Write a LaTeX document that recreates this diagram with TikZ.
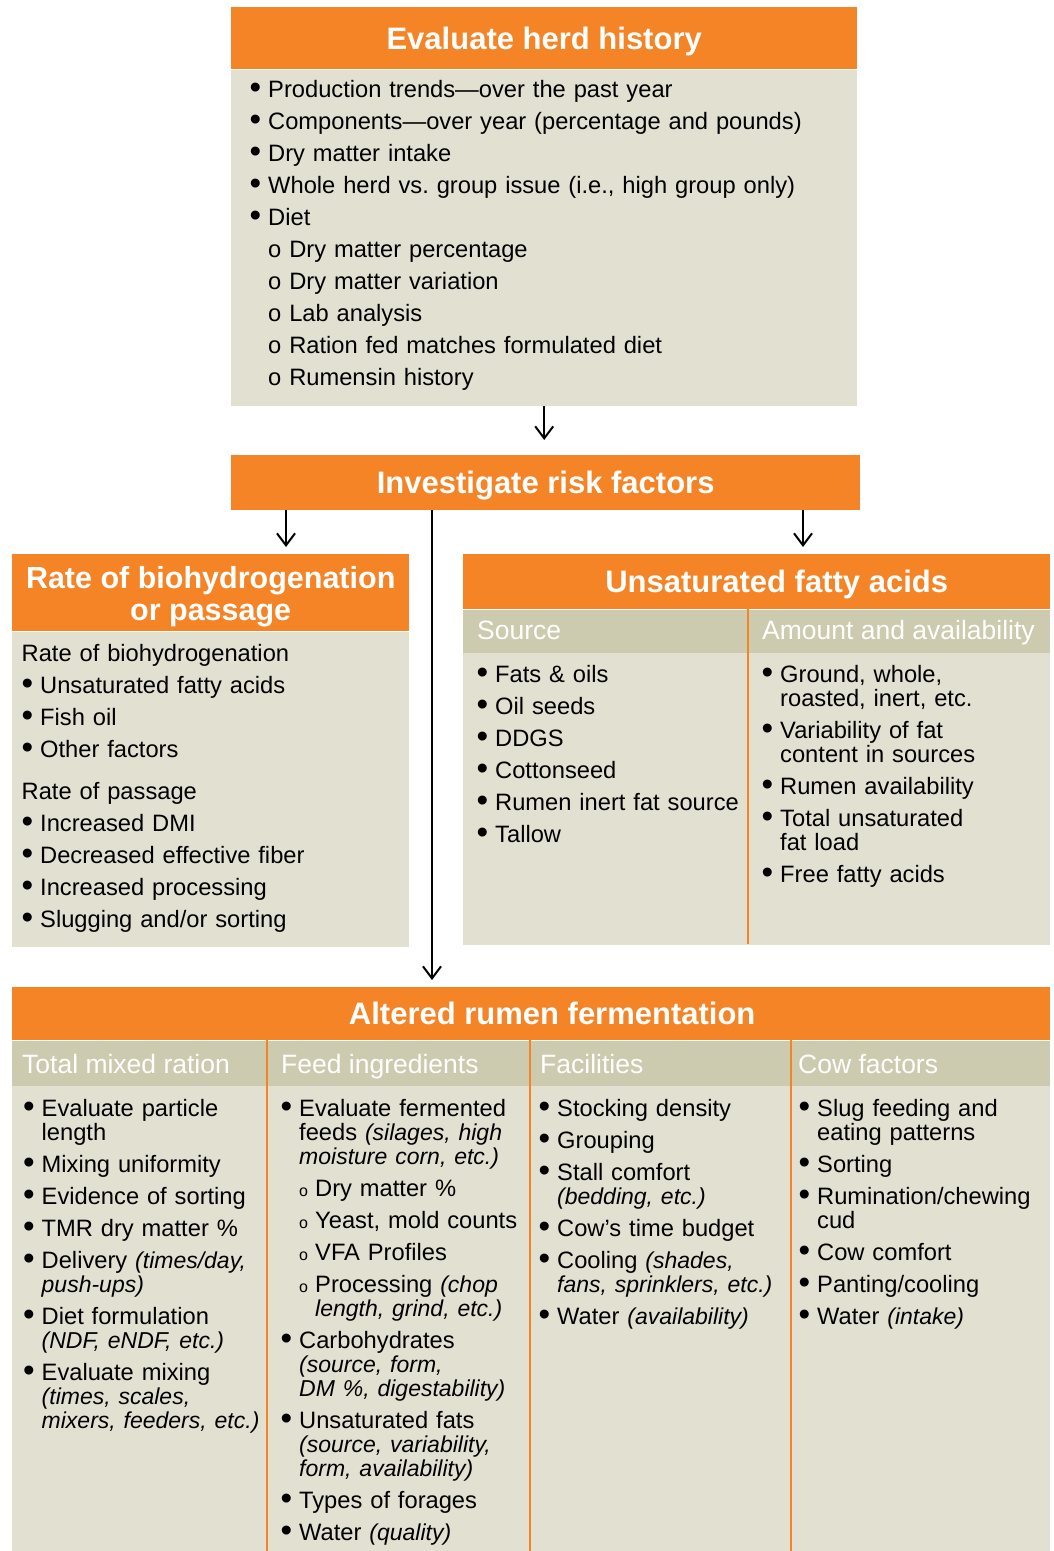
\documentclass[tikz,border=0pt]{standalone}
\usepackage{fontspec}
\setmainfont{Liberation Sans}
\usetikzlibrary{arrows.meta}

\definecolor{hdorange}{RGB}{245,132,38}
\definecolor{bodybeige}{RGB}{226,224,209}
\definecolor{subkhaki}{RGB}{205,203,175}

% list items: bullet, plain line, "o" sub item, small "o" sub item
\newlength\bulw
\setlength\bulw{18.5pt}
\newcommand\bul{\raisebox{-1.8pt}{\fontsize{33}{24}\selectfont•}}
\newcommand\ital[1]{{\fontsize{23}{24}\selectfont\itshape #1}}
\newcommand\bitem[1]{\parskip=8pt\hangindent=\bulw\hangafter=1\relax
  \leavevmode\makebox[\bulw][l]{\bul}#1\par}
\newcommand\hditem[1]{\parskip=8pt\leavevmode#1\par}
\newcommand\oitem[1]{\parskip=8pt\leavevmode\hspace*{\bulw}o #1\par}
\newcommand\sitem[1]{\parskip=8pt\hangindent=\dimexpr\bulw+16pt\relax\hangafter=1\relax
  \leavevmode\hspace*{\bulw}\makebox[16pt][l]{\fontsize{16}{16}\selectfont o}#1\par}

\begin{document}
\begin{tikzpicture}[x=1pt, y=-1pt,
  head/.style={fill=hdorange, inner sep=0pt, anchor=north west},
  title/.style={text=white, inner sep=0pt, font=\fontsize{31}{32}\selectfont\bfseries},
  head1/.style={head, title, text height=22pt, text depth=0pt},
  body/.style={fill=bodybeige, inner sep=0pt, anchor=north west},
  band/.style={fill=subkhaki, inner sep=0pt, anchor=north west},
  colhd/.style={text=white, inner sep=0pt, anchor=base west,
    font=\fontsize{26.5}{26.5}\selectfont},
  items/.style={inner sep=0pt, anchor=base west, text width=600pt, align=left,
    font=\fontsize{23.7}{24}\selectfont\frenchspacing},
  divider/.style={draw=hdorange, line width=1.5pt},
  arr/.style={-{Straight Barb[length=12pt,width=18pt]}, line width=2pt, shorten >=7pt}]
  \useasboundingbox (0,0) rectangle (1053,1551);

  % Evaluate herd history
  \node[head1, minimum width=626pt, minimum height=62pt] (herd) at (231,7) {Evaluate herd history};
  \node[body, minimum width=626pt, minimum height=336pt] (herdbody) at (herd.south west) {};
  \node[items] (herdlist) at (249.5,97) {%
    \bitem{Production trends—over the past year}%
    \bitem{Components—over year (percentage and pounds)}%
    \bitem{Dry matter intake}%
    \bitem{Whole herd vs. group issue (i.e., high group only)}%
    \bitem{Diet}%
    \oitem{Dry matter percentage}%
    \oitem{Dry matter variation}%
    \oitem{Lab analysis}%
    \oitem{Ration fed matches formulated diet}%
    \oitem{Rumensin history}};

  % Investigate risk factors
  \node[head1, minimum width=629pt, minimum height=55pt] (risk) at (231,455) {Investigate risk factors};

  % Rate of biohydrogenation or passage
  \node[head, minimum width=397pt, minimum height=77pt] (biohyd) at (12,554) {};
  \node[title, align=center, font=\fontsize{30.5}{32}\selectfont\bfseries, yshift=-4pt]
    (biohydtitle) at (biohyd.center) {Rate of biohydrogenation\\or passage};
  \node[body, minimum width=397pt, minimum height=315pt] (biohydbody) at (biohyd.south west) {};
  \node[items] (biohydlist) at (21.5,661) {%
    \hditem{Rate of biohydrogenation}%
    \bitem{Unsaturated fatty acids}%
    \bitem{Fish oil}%
    \bitem{Other factors}%
    \vspace{10pt}%
    \hditem{Rate of passage}%
    \bitem{Increased DMI}%
    \bitem{Decreased effective fiber}%
    \bitem{Increased processing}%
    \bitem{Slugging and/or sorting}};

  % Unsaturated fatty acids
  \node[head, minimum width=587pt, minimum height=55pt] (ufa) at (463,554) {};
  \node[title, text height=22pt, text depth=0pt, xshift=20pt] (ufatitle) at (ufa.center) {Unsaturated fatty acids};
  \node[band, minimum width=587pt, minimum height=43pt] (ufaband) at (ufa.south west) {};
  \node[body, minimum width=587pt, minimum height=292pt] (ufabody) at (ufaband.south west) {};
  \draw[divider] (748,609) -- (748,944);
  \node[colhd] (hsource) at (477,639) {Source};
  \node[colhd] (hamount) at (762,639) {Amount and availability};
  \node[items] (sourcelist) at (476.5,682) {%
    \bitem{Fats \& oils}%
    \bitem{Oil seeds}%
    \bitem{DDGS}%
    \bitem{Cottonseed}%
    \bitem{Rumen inert fat source}%
    \bitem{Tallow}};
  \node[items] (amountlist) at (761.5,682) {%
    \bitem{Ground, whole,\newline roasted, inert, etc.}%
    \bitem{Variability of fat\newline content in sources}%
    \bitem{Rumen availability}%
    \bitem{Total unsaturated\newline fat load}%
    \bitem{Free fatty acids}};

  % Altered rumen fermentation
  \node[head, minimum width=1038pt, minimum height=53pt] (arf) at (12,987) {};
  \node[title, text height=22pt, text depth=0pt, xshift=21pt] (arftitle) at (arf.center) {Altered rumen fermentation};
  \node[band, minimum width=1038pt, minimum height=45pt] (arfband) at (arf.south west) {};
  \node[body, minimum width=1038pt, minimum height=466pt] (arfbody) at (arfband.south west) {};
  \foreach \x in {267, 530, 791} {
    \draw[divider] (\x,1040) -- (\x,1551);
  }
  \node[colhd] (htmr) at (22,1073) {Total mixed ration};
  \node[colhd] (hfeed) at (281,1073) {Feed ingredients};
  \node[colhd] (hfacil) at (540,1073) {Facilities};
  \node[colhd] (hcow) at (798,1073) {Cow factors};
  \node[items] (tmrlist) at (23,1116) {%
    \bitem{Evaluate particle\newline length}%
    \bitem{Mixing uniformity}%
    \bitem{Evidence of sorting}%
    \bitem{TMR dry matter \%}%
    \bitem{Delivery \ital{(times/day,\newline push-ups)}}%
    \bitem{Diet formulation\newline \ital{(NDF, eNDF, etc.)}}%
    \bitem{Evaluate mixing\newline \ital{(times, scales,\newline mixers, feeders, etc.)}}};
  \node[items] (feedlist) at (280.5,1116) {%
    \bitem{Evaluate fermented\newline feeds \ital{(silages, high\newline moisture corn, etc.)}}%
    \sitem{Dry matter \%}%
    \sitem{Yeast, mold counts}%
    \sitem{VFA Profiles}%
    \sitem{Processing \ital{(chop\newline length, grind, etc.)}}%
    \bitem{Carbohydrates\newline \ital{(source, form,\newline DM \%, digestability)}}%
    \bitem{Unsaturated fats\newline \ital{(source, variability,\newline form, availability)}}%
    \bitem{Types of forages}%
    \bitem{Water \ital{(quality)}}};
  \node[items] (facillist) at (538.5,1116) {%
    \bitem{Stocking density}%
    \bitem{Grouping}%
    \bitem{Stall comfort\newline \ital{(bedding, etc.)}}%
    \bitem{Cow’s time budget}%
    \bitem{Cooling \ital{(shades,\newline fans, sprinklers, etc.)}}%
    \bitem{Water \ital{(availability)}}};
  \node[items] (cowlist) at (798.5,1116) {%
    \bitem{Slug feeding and\newline eating patterns}%
    \bitem{Sorting}%
    \bitem{Rumination/chewing\newline cud}%
    \bitem{Cow comfort}%
    \bitem{Panting/cooling}%
    \bitem{Water \ital{(intake)}}};

  % Connectors
  \draw[arr, shorten >=15pt] (herdbody.south) -- (herdbody.south |- risk.north);
  \coordinate (lft) at (286,510);
  \coordinate (mid) at (432,510);
  \coordinate (rgt) at (803,510);
  \draw[arr] (lft) -- (lft |- biohyd.north);
  \draw[arr] (rgt) -- (rgt |- ufa.north);
  \draw[arr] (mid) -- (mid |- arf.north);
\end{tikzpicture}
\end{document}
